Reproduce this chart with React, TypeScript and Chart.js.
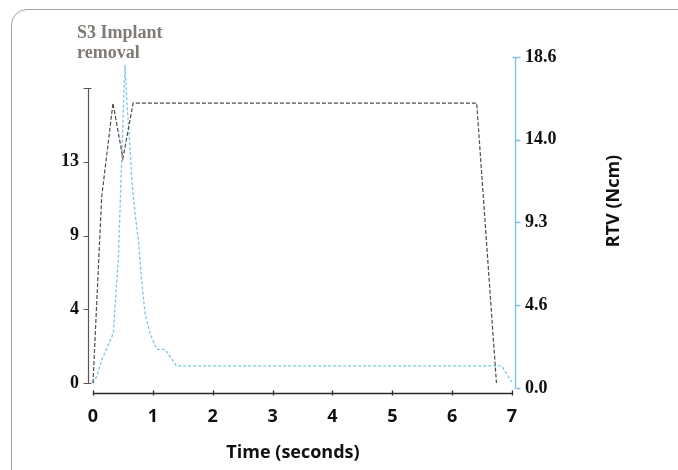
import React, { useEffect, useRef } from 'react';
import { Chart, registerables } from 'chart.js';

Chart.register(...registerables);

// ---- data ----
const TORQUE_TIME = [0, 0.145, 0.334, 0.5, 0.67, 6.41, 6.74];
const TORQUE = [0, 11.1, 16.7, 13.4, 16.7, 16.7, 0];

const RTV_TIME = [0, 0.062, 0.145, 0.339, 0.384, 0.423, 0.451, 0.479, 0.506, 0.535, 0.563, 0.618, 0.647, 0.702, 0.757, 0.813, 0.869, 0.952, 1.064, 1.203, 1.398, 6.828, 6.995];
const RTV = [0.26, 0.64, 1.57, 3.07, 5.34, 7.19, 10.0, 12.81, 15.62, 18.15, 16.18, 13.56, 11.69, 9.83, 8.32, 6.07, 4.2, 3.07, 2.17, 2.17, 1.24, 1.24, 0.34];

const TIME_TICKS = [0, 1, 2, 3, 4, 5, 6, 7];
const LEFT_TICKS = [0, 4.4, 8.8, 13.2, 17.6];
const LEFT_TICK_LABELS = ['0', '4', '9', '13', ''];
const RIGHT_TICKS = [0, 4.65, 9.3, 13.95, 18.6];
const RIGHT_TICK_LABELS = ['0.0', '4.6', '9.3', '14.0', '18.6'];

const CHART_TITLE = ['S3 Implant', 'removal'];
const X_TITLE = 'Time (seconds)';
const RIGHT_TITLE = 'RTV (Ncm)';

const SERIF = '"Liberation Serif", "Times New Roman", serif';
const SANS = '"Open Sans", "Noto Sans", sans-serif';

const customAxes = {
  id: 'customAxes',
  beforeDatasetsDraw(chart: any) {
    const { ctx, chartArea: ca, scales } = chart;
    const yL = scales.yL, yR = scales.yR, x = scales.x;
    const px = (v: number) => Math.round(v) + 0.5;
    ctx.save();
    ctx.lineCap = 'butt';

    // left axis
    const lx = px(ca.left);
    ctx.strokeStyle = '#5b5552';
    ctx.lineWidth = 1.2;
    ctx.beginPath();
    ctx.moveTo(lx, px(yL.getPixelForValue(LEFT_TICKS[0])));
    ctx.lineTo(lx, px(yL.getPixelForValue(LEFT_TICKS[LEFT_TICKS.length - 1])));
    LEFT_TICKS.forEach((v, i) => {
      const y = px(yL.getPixelForValue(v));
      const ends = i === 0 || i === LEFT_TICKS.length - 1;
      ctx.moveTo(lx - 5, y);
      ctx.lineTo(ends ? lx + 3 : lx, y);
    });
    ctx.stroke();

    // right axis
    const rx = px(ca.right);
    ctx.strokeStyle = '#7dbfe6';
    ctx.lineWidth = 1.4;
    ctx.beginPath();
    ctx.moveTo(rx, px(yR.getPixelForValue(RIGHT_TICKS[0])));
    ctx.lineTo(rx, px(yR.getPixelForValue(RIGHT_TICKS[RIGHT_TICKS.length - 1])));
    RIGHT_TICKS.forEach((v, i) => {
      const y = px(yR.getPixelForValue(v));
      const top = i === RIGHT_TICKS.length - 1;
      ctx.moveTo(top ? rx - 3 : rx, y);
      ctx.lineTo(rx + 5, y);
    });
    ctx.stroke();

    // x axis
    const by = px(ca.bottom);
    ctx.strokeStyle = '#2a2a2a';
    ctx.lineWidth = 1.3;
    ctx.beginPath();
    ctx.moveTo(px(x.getPixelForValue(TIME_TICKS[0])), by);
    ctx.lineTo(px(x.getPixelForValue(TIME_TICKS[TIME_TICKS.length - 1])), by);
    TIME_TICKS.forEach((v) => {
      const xx = px(x.getPixelForValue(v));
      ctx.moveTo(xx, by - 3);
      ctx.lineTo(xx, by + 2);
    });
    ctx.stroke();
    ctx.restore();
  },
  afterDraw(chart: any) {
    const { ctx } = chart;
    ctx.save();
    // chart title
    ctx.fillStyle = '#7f7a76';
    ctx.font = `bold 18px ${SERIF}`;
    ctx.textAlign = 'left';
    ctx.textBaseline = 'alphabetic';
    ctx.fillText(CHART_TITLE[0], 77, 38);
    ctx.fillText(CHART_TITLE[1], 77, 58);

    // x title
    ctx.fillStyle = '#111';
    ctx.font = `bold 18px ${SANS}`;
    ctx.textAlign = 'center';
    ctx.fillText(X_TITLE, 293, 458);

    // right title (reads bottom to top)
    ctx.translate(619, 201);
    ctx.rotate(-Math.PI / 2);
    ctx.fillText(RIGHT_TITLE, 0, 0);
    ctx.restore();
  },
};

export default function App() {
  const ref = useRef<HTMLCanvasElement | null>(null);

  useEffect(() => {
    if (!ref.current) return;
    const chart = new Chart(ref.current, {
      type: 'line',
      data: {
        datasets: [
          {
            label: 'Torque',
            data: TORQUE_TIME.map((t, i) => ({ x: t, y: TORQUE[i] })),
            yAxisID: 'yL',
            borderColor: '#4f4c4a',
            borderWidth: 1.2,
            borderDash: [4, 2],
            pointRadius: 0,
            tension: 0,
            fill: false,
          },
          {
            label: 'RTV',
            data: RTV_TIME.map((t, i) => ({ x: t, y: RTV[i] })),
            yAxisID: 'yR',
            borderColor: '#7cc5ea',
            borderWidth: 1.3,
            borderDash: [3, 2],
            pointRadius: 0,
            tension: 0,
            fill: false,
          },
        ],
      },
      options: {
        responsive: false,
        animation: false,
        layout: { padding: { top: 57, left: 0, right: 0, bottom: 0 } },
        plugins: {
          legend: { display: false },
          title: { display: false },
          tooltip: { enabled: false },
        },
        scales: {
          x: {
            type: 'linear',
            min: -0.0835,
            max: 7.05,
            border: { display: false },
            grid: { display: false, drawTicks: false },
            afterBuildTicks: (s: any) => { s.ticks = TIME_TICKS.map((v) => ({ value: v })); },
            afterFit: (s: any) => { s.height = 77; },
            ticks: {
              padding: 13,
              autoSkip: false,
              maxRotation: 0,
              color: '#111',
              font: { family: SANS, size: 18, weight: 'bold' },
              callback: (v: any) => String(v),
            },
          },
          yL: {
            type: 'linear',
            position: 'left',
            min: -0.5966,
            max: 19.4495,
            border: { display: false },
            grid: { display: false, drawTicks: false },
            afterBuildTicks: (s: any) => { s.ticks = LEFT_TICKS.map((v) => ({ value: v })); },
            afterFit: (s: any) => { s.width = 88; },
            ticks: {
              padding: 9,
              color: '#111',
              font: { family: SERIF, size: 18, weight: 'bold' },
              callback: (_v: any, i: number) => LEFT_TICK_LABELS[i],
            },
          },
          yR: {
            type: 'linear',
            position: 'right',
            min: -0.281,
            max: 18.6,
            border: { display: false },
            grid: { display: false, drawTicks: false },
            afterBuildTicks: (s: any) => { s.ticks = RIGHT_TICKS.map((v) => ({ value: v })); },
            afterFit: (s: any) => { s.width = 163; },
            ticks: {
              padding: 10,
              color: '#111',
              font: { family: SERIF, size: 18, weight: 'bold' },
              callback: (_v: any, i: number) => RIGHT_TICK_LABELS[i],
            },
          },
        },
      },
      plugins: [customAxes],
    } as any);
    return () => chart.destroy();
  }, []);

  return (
    <div style={{ position: 'fixed', left: 0, top: 0, width: 678, height: 470, overflow: 'hidden', background: '#fff' }}>
      <div
        style={{
          position: 'absolute',
          left: 11,
          top: 9,
          width: 720,
          height: 520,
          border: '1.5px solid #a3a3a3',
          borderRadius: 16,
          boxSizing: 'border-box',
        }}
      />
      <canvas ref={ref} width={678} height={470} style={{ position: 'absolute', left: 0, top: 0, width: 678, height: 470 }} />
    </div>
  );
}
